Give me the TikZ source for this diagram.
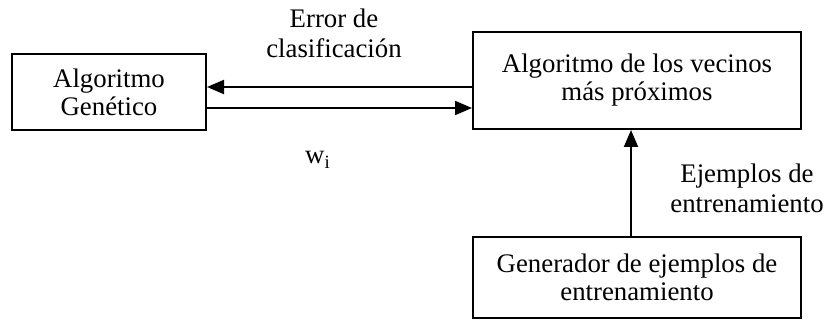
\documentclass[tikz,border=0pt]{standalone}
\usepackage{fontspec}
\setmainfont{Liberation Serif}
\usetikzlibrary{arrows.meta}

\begin{document}
\begin{tikzpicture}[x=0.5pt,y=-0.5pt,
  caja/.style={draw,line width=1pt,align=center,inner sep=0pt,font=\fontsize{13.4}{14}\selectfont},
  etiqueta/.style={align=center,inner sep=0pt,font=\fontsize{13.4}{15}\selectfont},
  flecha/.style={line width=1pt,-{Triangle[length=8.5pt,width=7pt]}}]
\useasboundingbox (0,0) rectangle (826,320);

\node (ag)[caja,minimum width=97pt,minimum height=38pt] at (109,92) {Algoritmo\\Genético};
\node (knn)[caja,minimum width=164pt,minimum height=48.5pt] at (637,80.5) {Algoritmo de los vecinos\\más próximos};
\node (gen)[caja,minimum width=164pt,minimum height=40.5pt] at (637,277.5) {Generador de ejemplos de\\entrenamiento};

\coordinate (e1) at (473,87);
\coordinate (e2) at (206,108);
\coordinate (e3) at (631,237);

\draw[flecha] (e1) -- (ag.east |- e1);
\draw[flecha] (e2) -- (knn.west |- e2);
\draw[flecha] (e3) -- (e3 |- knn.south);

\node (err)[etiqueta] at (334,33) {Error de\\clasificación};
\node (w)[etiqueta] at (318,160) {w\textsubscript{i}};
\node (ej)[etiqueta] at (747,188) {Ejemplos de\\entrenamiento};

\end{tikzpicture}
\end{document}
